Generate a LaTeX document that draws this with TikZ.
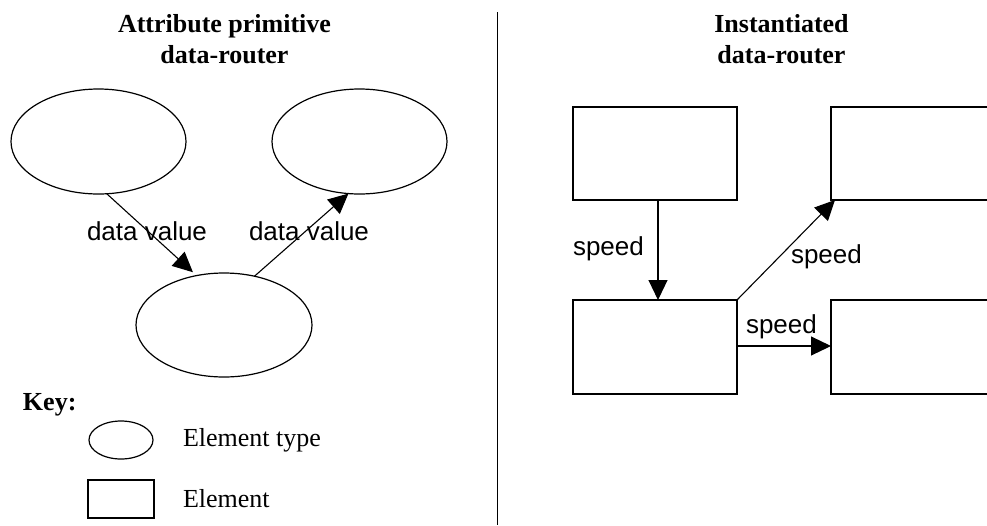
\documentclass[tikz,border=0pt]{standalone}
\usepackage{fontspec}
\setmainfont{Liberation Serif}
\newfontfamily\arialfont{Liberation Sans}
\usetikzlibrary{shapes.geometric,arrows.meta}
\tikzset{
  every node/.style={inner sep=0pt, outer sep=0pt},
  typeell/.style={draw, ellipse, line width=1.2pt, minimum width=175pt, minimum height=105pt},
  elembox/.style={draw, rectangle, line width=1.2pt, minimum width=164pt, minimum height=93pt},
  conn/.style={line width=1.1pt, -{Triangle[length=20pt,width=19pt]}},
  titletxt/.style={align=center, font=\fontsize{26}{31}\selectfont\bfseries},
  lbltxt/.style={anchor=base west, font=\fontsize{26}{31}\selectfont\arialfont},
  keytxt/.style={anchor=base west, font=\fontsize{26}{31}\selectfont},
}
\begin{document}
\begin{tikzpicture}[x=1pt,y=-1pt]
\useasboundingbox (0,0) rectangle (987,525);
\clip (0,0) rectangle (987,525);
% titles
\node[titletxt] (t1) at (224.5,38.7) {Attribute primitive\\data-router};
\node[titletxt] (t2) at (781.5,38.7) {Instantiated\\data-router};
% divider
\coordinate (dtop) at (497.5,12);
\coordinate (dbot) at (497.5,525);
\draw[line width=1.5pt] (dtop) -- (dbot);
% left: element types
\node[typeell] (e1) at (98.5,141.5) {};
\node[typeell] (e2) at (359.5,141.5) {};
\node[typeell, minimum width=176pt, minimum height=104pt] (e3) at (224,325) {};
\draw[conn, shorten >=5pt] (e1.-81) -- (e3.119);
\draw[conn] (e3.58.7) -- (e2.-102.4);
\node[lbltxt] (l1) at (87,240) {data value};
\node[lbltxt] (l2) at (249,240) {data value};
% key
\node[anchor=base west, font=\fontsize{26}{31}\selectfont\bfseries] (key) at (23,410) {Key:};
\node[draw, ellipse, line width=1.2pt, minimum width=64pt, minimum height=38pt] (ke) at (121,440) {};
\node[keytxt] (ket) at (183,446) {Element type};
\node[draw, rectangle, line width=1.2pt, minimum width=66pt, minimum height=38pt] (kr) at (121,499) {};
\node[keytxt] (krt) at (183,507) {Element};
% right: elements
\node[elembox] (r1) at (655,153.5) {};
\node[elembox] (r2) at (913,153.5) {};
\node[elembox, minimum height=94pt] (r3) at (655,347) {};
\node[elembox, minimum height=94pt] (r4) at (913,347) {};
\draw[conn] ([xshift=3pt]r1.south) -- ([xshift=3pt]r3.north);
\draw[conn] (r3.north east) -- ([xshift=4pt]r2.south west);
\draw[conn] ([yshift=1pt]r3.east) -- ([yshift=1pt]r4.west);
\node[lbltxt] (s1) at (573,255) {speed};
\node[lbltxt] (s2) at (791,263) {speed};
\node[lbltxt] (s3) at (746,333) {speed};
\end{tikzpicture}
\end{document}
